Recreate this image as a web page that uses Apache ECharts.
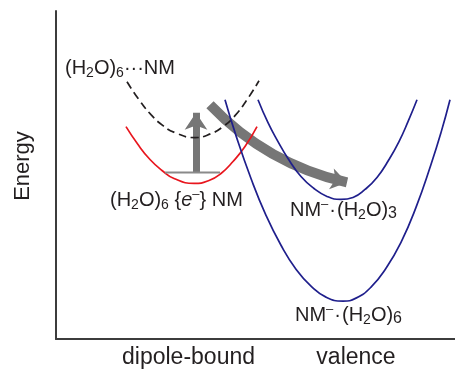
<!DOCTYPE html>
<html>
<head>
<meta charset="utf-8">
<script src="https://cdn.jsdelivr.net/npm/echarts@6/dist/echarts.min.js"></script>
<style>
  html, body { margin: 0; padding: 0; background: #fff; }
  #chart { width: 455px; height: 370px; }
</style>
</head>
<body>
<div id="chart"></div>
<script>
// schematic coordinates (x: reaction coordinate, y: energy)
const dbCurve = [[71, 258], [83, 240], [95, 225], [107, 214], [119, 207], [139, 202], [155, 206], [167, 213], [179, 224], [191, 240], [203, 259]]
const redCurve = [[70, 213], [82, 195], [94, 180], [106, 169], [118, 161], [138, 156], [153, 159], [165, 166], [177, 178], [189, 193], [201, 213]]
const deepCurve = [[169, 240], [180, 204], [195, 161], [210, 124], [225, 94], [240, 70], [255, 53], [270, 42], [287, 38], [300, 41], [315, 52], [330, 71], [345, 97], [360, 132], [375, 175], [385, 207], [394, 240]]
const shallowCurve = [[202, 240], [212, 217], [222, 198], [232, 181], [245, 163], [258, 151], [271, 143], [285, 140], [297, 142], [309, 150], [321, 162], [333, 180], [343, 198], [352, 218], [361, 240]]
const levelLine = [[109, 167], [164, 167]]
const upArrow = [[140, 167], [140, 227]]
const transferArrow = [[154, 235], [291, 157]]
const xTickNames = ['dipole-bound', 'valence']
const xTickValues = [132.5, 300]

const FONT = 'Liberation Sans, Arial, sans-serif'
const INK = '#231f20'
const GREY = '#767676'
const BLUE = '#1f1f8c'

const chart = echarts.init(document.getElementById('chart'))

// rich styles for sub/superscripts
const rich = {
    s: { fontSize: 14, fontFamily: FONT, fill: INK, lineHeight: 14, verticalAlign: 'bottom' },
    n: { fontSize: 16, fontFamily: FONT, fill: INK, lineHeight: 16, verticalAlign: 'bottom' },
    p: { fontSize: 13, fontFamily: FONT, fill: INK, lineHeight: 13, verticalAlign: 'top' },
    d: { fontSize: 20, fontFamily: FONT, fill: INK, lineHeight: 24, padding: [0, 1, 0, 1] },
    i: { fontSize: 20, fontFamily: FONT, fontStyle: 'italic', fill: INK, lineHeight: 24 }
}

function label(x, y, text) {
    return {
        type: 'text',
        x: x,
        y: y,
        z: 10,
        style: {
            text: text,
            rich: rich,
            fontSize: 20,
            fontFamily: FONT,
            lineHeight: 24,
            fill: INK,
            align: 'left',
            verticalAlign: 'middle'
        }
    }
}

function curve(data, color, type) {
    return {
        type: 'line',
        data: data,
        smooth: 0.5,
        symbol: 'none',
        lineStyle: { color: color, width: 1.7, type: type || 'solid' }
    }
}

chart.setOption({
    animation: false,
    grid: { left: 56, right: 0, top: 11, bottom: 30 },
    xAxis: {
        type: 'value',
        min: 0,
        max: 399,
        axisLine: { show: true, lineStyle: { color: '#3c3c3c', width: 2 } },
        axisTick: { show: false },
        splitLine: { show: false },
        axisLabel: {
            customValues: xTickValues,
            formatter: function (v) {
                return xTickNames[xTickValues.indexOf(v)]
            },
            margin: 7,
            fontSize: 23,
            lineHeight: 24,
            fontFamily: FONT,
            color: INK
        }
    },
    yAxis: {
        type: 'value',
        min: 0,
        max: 329,
        axisLine: { show: true, lineStyle: { color: '#3c3c3c', width: 2 } },
        axisTick: { show: false },
        axisLabel: { show: false },
        splitLine: { show: false }
    },
    graphic: [
        {
            type: 'text',
            x: 22.5,
            y: 166,
            rotation: Math.PI / 2,
            style: {
                text: 'Energy',
                fontSize: 22,
                fontFamily: FONT,
                fill: INK,
                align: 'center',
                verticalAlign: 'middle'
            }
        },
        label(65, 68, '(H{s|2}O){s|6}···NM'),
        label(110, 200, '(H{s|2}O){s|6} {{i|e}{p|–}} NM'),
        label(290, 210, 'NM{p|–}{d|·}(H{s|2}O){n|3}'),
        label(295, 315, 'NM{p|–}{d|·}(H{s|2}O){n|6}')
    ],
    series: [
        curve(redCurve, '#e8161e'),
        curve(dbCurve, INK, [8, 4.5]),
        {
            type: 'line',
            data: levelLine,
            symbol: 'none',
            lineStyle: { color: '#8a8a8a', width: 2 }
        },
        {
            type: 'lines',
            coordinateSystem: 'cartesian2d',
            symbol: ['none', 'arrow'],
            symbolSize: [20, 17],
            lineStyle: { color: GREY, width: 7, opacity: 1 },
            data: [{ coords: upArrow }]
        },
        {
            type: 'lines',
            coordinateSystem: 'cartesian2d',
            symbol: ['none', 'arrow'],
            symbolSize: [19, 16],
            lineStyle: { color: GREY, width: 10, opacity: 1, curveness: -0.15 },
            data: [{ coords: transferArrow }]
        },
        curve(deepCurve, BLUE),
        curve(shallowCurve, BLUE)
    ]
})

window.addEventListener('resize', () => {
    chart.resize()
})
</script>
</body>
</html>
